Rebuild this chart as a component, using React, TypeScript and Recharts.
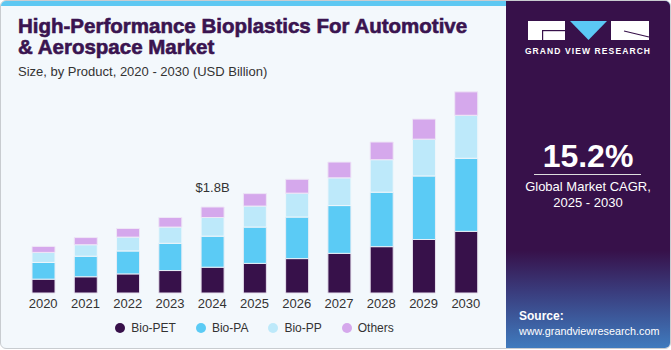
import { BarChart, Bar, XAxis, YAxis, Legend, LabelList } from "recharts";

const years = ["2020", "2021", "2022", "2023", "2024", "2025", "2026", "2027", "2028", "2029", "2030"];
const bioPET = [0.29, 0.34, 0.40, 0.47, 0.54, 0.62, 0.72, 0.83, 0.97, 1.12, 1.29];
const bioPA = [0.35, 0.43, 0.48, 0.57, 0.65, 0.76, 0.87, 1.0, 1.14, 1.33, 1.53];
const bioPP = [0.21, 0.24, 0.29, 0.34, 0.39, 0.44, 0.5, 0.58, 0.68, 0.77, 0.9];
const others = [0.125, 0.15, 0.18, 0.2, 0.22, 0.26, 0.29, 0.33, 0.37, 0.42, 0.49];
const seriesNames = ["Bio-PET", "Bio-PA", "Bio-PP", "Others"];
const calloutIndex = 4;
const calloutText = "$1.8B";

const data = years.map((year, i) => ({
  year,
  pet: bioPET[i],
  pa: bioPA[i],
  pp: bioPP[i],
  others: others[i],
}));

const FONT = '"Liberation Sans", Arial, sans-serif';
const PURPLE = "#37114a";

const LegendContent = ({ payload }: any) => {
  const items = [...(payload || [])].sort((a: any, b: any) => seriesNames.indexOf(a.value) - seriesNames.indexOf(b.value));
  return (
    <div style={{ display: "flex", justifyContent: "center", gap: 20, fontFamily: FONT, fontSize: 12, color: "#333" }}>
      {items.map((p: any) => (
        <div key={p.value} style={{ display: "flex", alignItems: "center", gap: 6 }}>
          <span style={{ width: 10, height: 10, borderRadius: 5, background: p.color, display: "inline-block" }} />
          <span>{p.value}</span>
        </div>
      ))}
    </div>
  );
};

const Callout = (props: any) => {
  const { x, y, width, index } = props;
  if (index !== calloutIndex) return null;
  return (
    <text x={x + width / 2} y={y - 15} textAnchor="middle" fontFamily={FONT} fontSize={13} fill="#333">
      {calloutText}
    </text>
  );
};

const App = () => {
  return (
    <div
      style={{
        position: "absolute",
        left: 0,
        top: 0,
        width: 669,
        height: 347,
        background: "#f3f8fc",
        border: "1px solid #c8ccd0",
        borderRadius: 6,
        overflow: "hidden",
        fontFamily: FONT,
      }}
    >
      <div style={{ position: "absolute", left: 0, top: 0, width: 669, height: 5, background: "#5ec8f2" }} />
      <div
        style={{
          position: "absolute",
          left: 17,
          top: 14,
          fontSize: 20.5,
          fontWeight: 700,
          lineHeight: "21px",
          color: "#3a1450",
          fontFamily: FONT,
          WebkitTextStroke: "0.6px #3a1450",
          whiteSpace: "nowrap",
        }}
      >
        High-Performance Bioplastics For Automotive
        <br />& Aerospace Market
      </div>
      <div style={{ position: "absolute", left: 17, top: 63, fontSize: 13, color: "#333" }}>
        Size, by Product, 2020 - 2030 (USD Billion)
      </div>

      <div style={{ position: "absolute", left: 0, top: 0 }}>
        <BarChart width={500} height={348} data={data} margin={{ top: 77, right: 14, left: 21, bottom: 4 }}>
          <XAxis
            dataKey="year"
            axisLine={false}
            tickLine={false}
            height={22}
            tick={{ fontFamily: FONT, fontSize: 13, fill: "#333" }}
            dy={-2}
            interval={0}
          />
          <YAxis hide domain={[0, 4.5]} />
          <Legend verticalAlign="bottom" height={30} content={<LegendContent />} wrapperStyle={{ top: 320 }} />
          <Bar dataKey="pet" name="Bio-PET" stackId="a" fill={PURPLE} barSize={23} stroke="#e6e0ee" strokeWidth={1} isAnimationActive={false} />
          <Bar dataKey="pa" name="Bio-PA" stackId="a" fill="#5bcbf5" barSize={23} stroke="#e6eef6" strokeWidth={1} isAnimationActive={false} />
          <Bar dataKey="pp" name="Bio-PP" stackId="a" fill="#bde9fa" barSize={23} stroke="#eef6fb" strokeWidth={1} isAnimationActive={false} />
          <Bar dataKey="others" name="Others" stackId="a" fill="#d5a8ec" barSize={23} stroke="#eee6f6" strokeWidth={1} isAnimationActive={false}>
            <LabelList dataKey="others" content={<Callout />} />
          </Bar>
        </BarChart>
      </div>

      <div
        style={{
          position: "absolute",
          left: 505,
          top: 0,
          width: 164,
          height: 347,
          background: "linear-gradient(to bottom, #37114a 0%, #37114a 72%, #3a3d7e 84%, #3f7bbe 100%)",
          color: "#fff",
          textAlign: "center",
        }}
      >
        <svg width={164} height={60} style={{ position: "absolute", left: 0, top: 0 }}>
          <rect x={22} y={20} width={37} height={19} fill="#fff" />
          <rect x={36} y={29} width={23} height={1.2} fill={PURPLE} />
          <rect x={36} y={29} width={1.2} height={10} fill={PURPLE} />
          <polygon points="64,20 101,20 82.5,39" fill="#5bc8f5" />
          <rect x={105} y={20} width={38} height={19} fill="#fff" />
          <line x1={118} y1={30} x2={143} y2={36} stroke={PURPLE} strokeWidth={1.2} />
        </svg>
        <div style={{ position: "absolute", left: 0, top: 45, width: 164, fontSize: 8.5, fontWeight: 700, letterSpacing: 1.1 }}>
          GRAND VIEW RESEARCH
        </div>
        <div style={{ position: "absolute", left: 0, top: 138, width: 164, fontSize: 32, fontWeight: 700, lineHeight: "34px" }}>
          15.2%
        </div>
        <div style={{ position: "absolute", left: 28, top: 173, width: 107, height: 1, background: "#ddd" }} />
        <div style={{ position: "absolute", left: 0, top: 178, width: 164, fontSize: 13, lineHeight: "16px" }}>
          Global Market CAGR,
          <br />
          2025 - 2030
        </div>
        <div style={{ position: "absolute", left: 13, top: 308, textAlign: "left", fontSize: 10.8, lineHeight: "15px", whiteSpace: "nowrap" }}>
          <b style={{ fontSize: 12 }}>Source:</b>
          <br />
          www.grandviewresearch.com
        </div>
      </div>
    </div>
  );
};

export default App;
